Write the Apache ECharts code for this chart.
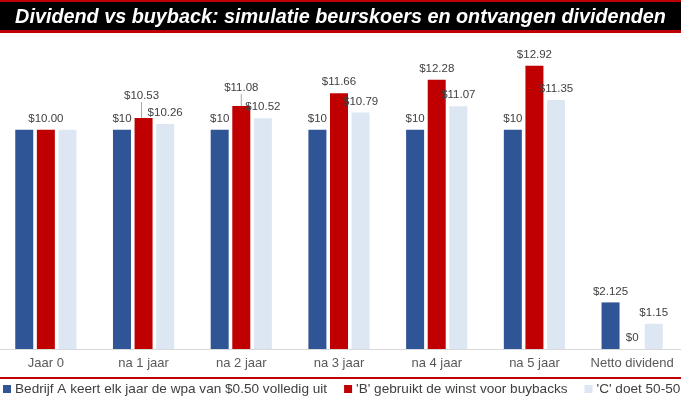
<!DOCTYPE html>
<html>
<head>
<meta charset="utf-8">
<script src="https://cdn.jsdelivr.net/npm/echarts@6/dist/echarts.min.js"></script>
<style>
  html, body { margin: 0; padding: 0; background: #fff; }
  #chart { width: 681px; height: 399px; }
</style>
</head>
<body>
<div id="chart"></div>
<script>
var categories = ['Jaar 0', 'na 1 jaar', 'na 2 jaar', 'na 3 jaar', 'na 4 jaar', 'na 5 jaar', 'Netto dividend']
var seriesNames = [
  'Bedrijf A keert elk jaar de wpa van $0.50 volledig uit',
  "'B' gebruikt de winst voor buybacks",
  "'C' doet 50-50"
]
var valuesA = [10, 10, 10, 10, 10, 10, 2.125]
var valuesB = [10, 10.53, 11.08, 11.66, 12.28, 12.92, 0]
var valuesC = [10, 10.26, 10.52, 10.79, 11.07, 11.35, 1.15]
var colors = ['#2F5597', '#C00000', '#DDE7F3']

// Jaar 0: alleen het label van de rode balk
function fmtA (p) {
  return p.dataIndex === 0 ? '' : '$' + p.value
}
function fmtB (p) {
  return p.value === 0 ? '$0' : '$' + p.value.toFixed(2)
}
function fmtC (p) {
  return p.dataIndex === 0 ? '' : '$' + p.value.toFixed(2)
}

var labelStyle = {
  show: true,
  position: 'top',
  distance: 5,
  color: '#404040',
  fontFamily: 'Liberation Sans',
  fontSize: 11.5
}

// rode balken: labels van na 1 en na 2 jaar iets hoger, met een lijntje
var dataB = valuesB.map(function (v, i) {
  if (i === 1 || i === 2) return { value: v, labelLine: { show: true } }
  return v
})

var myChart = echarts.init(document.getElementById('chart'))

var option = {
  animation: false,
  color: colors,
  title: {
    text: 'Dividend vs buyback: simulatie beurskoers en ontvangen dividenden',
    left: 'center',
    top: 3,
    textStyle: {
      color: '#fff',
      fontFamily: 'Liberation Sans',
      fontStyle: 'italic',
      fontWeight: 'bold',
      fontSize: 19.8
    }
  },
  graphic: [
    { type: 'rect', z: -1, shape: { x: 0, y: 0, width: 681, height: 33 }, style: { fill: '#C00000' } },
    { type: 'rect', z: -1, shape: { x: 0, y: 2, width: 681, height: 28 }, style: { fill: '#000' } },
    { type: 'rect', shape: { x: 0, y: 377, width: 681, height: 2 }, style: { fill: '#C00000' } }
  ],
  legend: {
    left: 3,
    top: 382,
    width: 720,
    padding: 0,
    itemWidth: 8,
    itemHeight: 8,
    itemGap: 17,
    icon: 'rect',
    textStyle: {
      color: '#404040',
      fontFamily: 'Liberation Sans',
      fontSize: 13.6,
      padding: [0, 0, 0, -1]
    },
    data: seriesNames
  },
  grid: {
    left: -3,
    right: 0,
    top: 42,
    bottom: 50,
    containLabel: false,
    outerBoundsMode: 'none'
  },
  xAxis: {
    type: 'category',
    data: categories,
    axisLine: { lineStyle: { color: '#D9D9D9', width: 1 } },
    axisTick: { show: false },
    axisLabel: {
      color: '#595959',
      fontFamily: 'Liberation Sans',
      fontSize: 13,
      margin: 8,
      interval: 0
    }
  },
  yAxis: {
    type: 'value',
    show: false,
    min: 0,
    max: 14,
    splitLine: { show: false }
  },
  series: [
    {
      name: seriesNames[0],
      type: 'bar',
      barWidth: 18,
      barGap: '20%',
      data: valuesA,
      label: Object.assign({}, labelStyle, { formatter: fmtA })
    },
    {
      name: seriesNames[1],
      type: 'bar',
      barWidth: 18,
      barGap: '20%',
      data: dataB,
      label: Object.assign({}, labelStyle, { formatter: fmtB }),
      labelLine: { show: false, lineStyle: { color: '#A6A6A6', width: 1 } },
      labelLayout: function (params) {
        if (params.dataIndex === 1) return { dx: -2, dy: -11 }
        if (params.dataIndex === 2) return { dy: -7 }
        return {}
      }
    },
    {
      name: seriesNames[2],
      type: 'bar',
      barWidth: 18,
      barGap: '20%',
      data: valuesC,
      label: Object.assign({}, labelStyle, { formatter: fmtC })
    }
  ]
}

myChart.setOption(option)
</script>
</body>
</html>
